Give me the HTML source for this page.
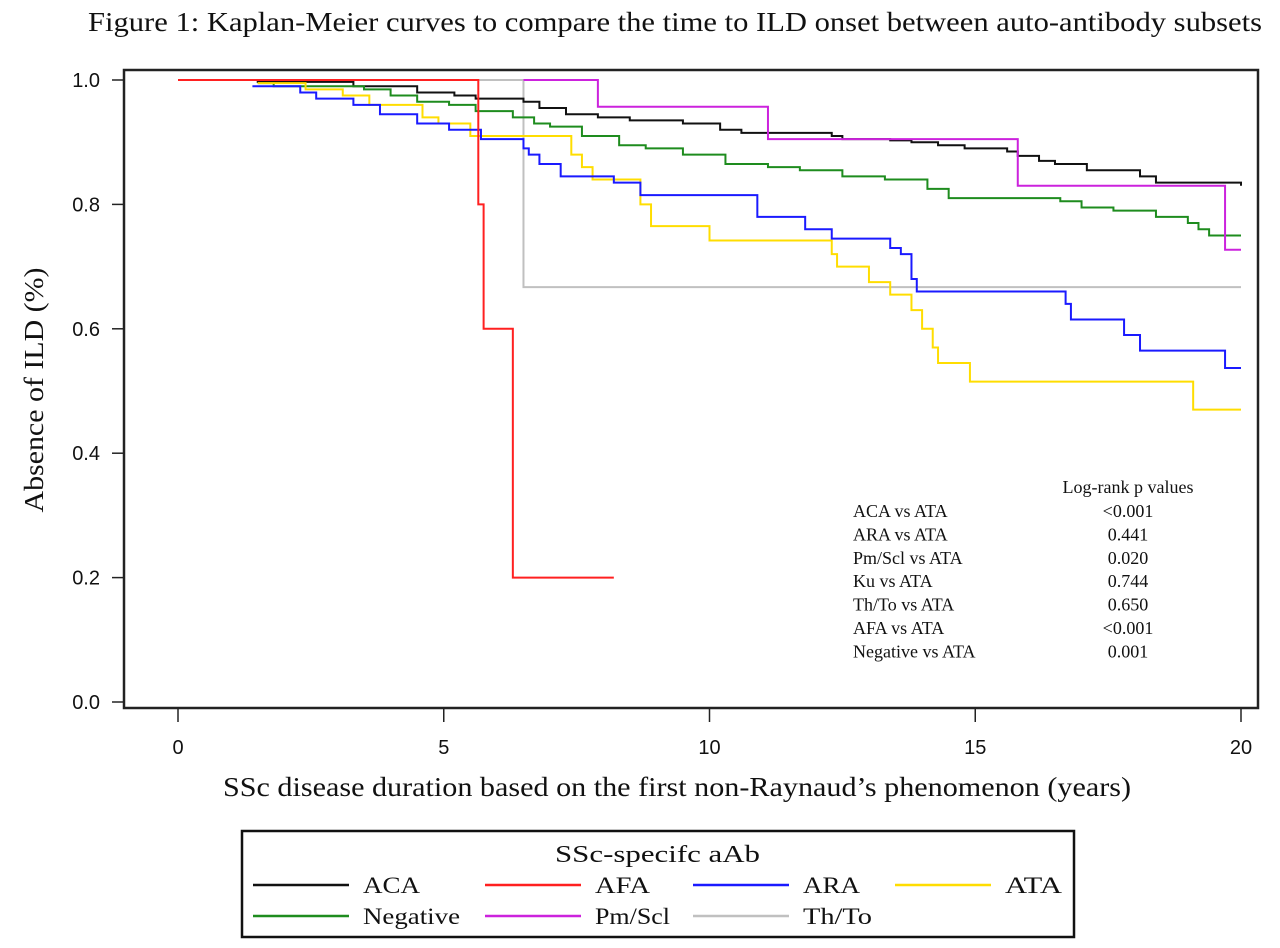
<!DOCTYPE html>
<html><head><meta charset="utf-8"><style>
html,body{margin:0;padding:0;background:#fff;}
svg{display:block;}
text{font-family:"Liberation Serif",serif;fill:#111;}
.tk{font-family:"Liberation Sans",sans-serif;font-size:20px;}
</style></head><body>
<svg id="chart" width="1280" height="948" viewBox="0 0 1280 948">
<text x="88" y="31" textLength="1174" lengthAdjust="spacingAndGlyphs" font-size="27">Figure 1: Kaplan-Meier curves to compare the time to ILD onset between auto-antibody subsets</text>
<rect x="124" y="70" width="1134" height="638" fill="none" stroke="#222" stroke-width="2.5"/>
<g id="axes"></g>
<g id="curves"></g>
<text transform="translate(43,390) rotate(-90)" text-anchor="middle" font-size="27" textLength="245" lengthAdjust="spacingAndGlyphs">Absence of ILD (%)</text>
<text x="223" y="796" textLength="908" lengthAdjust="spacingAndGlyphs" font-size="27">SSc disease duration based on the first non-Raynaud’s phenomenon (years)</text>
<g font-size="18">
<text x="1128" y="493" text-anchor="middle">Log-rank p values</text>
<g id="ptable"></g>
</g>
<g>
<rect x="242" y="831" width="832" height="106" fill="#fff" stroke="#111" stroke-width="2.5"/>
<text x="555" y="862" textLength="205" lengthAdjust="spacingAndGlyphs" font-size="24">SSc-specifc aAb</text>
<g id="legend"></g>
</g>
</svg>
<script>
const tickX=[0,5,10,15,20];
const tickY=[0.0,0.2,0.4,0.6,0.8,1.0];
const names=["ACA","AFA","ARA","ATA","Negative","Pm/Scl","Th/To"];
const colors=["#111111","#ff2020","#1a1aff","#ffdd00","#1e8c1e","#cc22dd","#c0c0c0"];
const acaT=[0,1.5,3.3,4.5,5.2,5.6,6.5,6.8,7.3,7.9,8.5,9.5,10.2,10.6,12.3,12.5,13.4,13.8,14.3,14.8,15.6,15.8,16.2,16.5,17.1,18.1,18.4,20];
const acaS=[1,0.997,0.99,0.98,0.975,0.97,0.965,0.955,0.945,0.94,0.935,0.93,0.92,0.915,0.91,0.905,0.903,0.9,0.895,0.89,0.885,0.878,0.87,0.865,0.855,0.845,0.835,0.83];
const afaT=[0,5.65,5.75,6.3,8.2];
const afaS=[1,0.8,0.6,0.2,0.2];
const araT=[1.4,2.3,2.6,3.3,3.8,4.5,5.1,5.7,6.5,6.6,6.8,7.2,8.2,8.7,10.9,11.8,12.3,13.4,13.6,13.8,13.9,16.7,16.8,17.8,18.1,19.7,20];
const araS=[0.99,0.98,0.97,0.96,0.945,0.93,0.92,0.905,0.89,0.88,0.865,0.845,0.835,0.815,0.78,0.76,0.745,0.73,0.72,0.68,0.66,0.64,0.615,0.59,0.565,0.537,0.537];
const ataT=[1.5,2.4,3.1,3.6,4.6,4.9,5.5,7.4,7.6,7.8,8.7,8.9,10.0,12.3,12.4,13.0,13.4,13.8,14.0,14.2,14.3,14.9,19.1,20];
const ataS=[0.995,0.985,0.975,0.96,0.94,0.93,0.91,0.88,0.86,0.84,0.8,0.765,0.742,0.72,0.70,0.675,0.655,0.63,0.60,0.57,0.545,0.515,0.47,0.47];
const negT=[1.5,1.8,3.5,4.0,4.5,5.1,5.6,6.3,6.7,7.0,7.6,8.3,8.8,9.5,10.3,11.1,11.7,12.5,13.3,14.1,14.5,16.6,17.0,17.6,18.4,19.0,19.2,19.4,20];
const negS=[0.995,0.99,0.985,0.975,0.965,0.96,0.95,0.94,0.93,0.925,0.91,0.895,0.89,0.88,0.865,0.86,0.855,0.845,0.84,0.825,0.81,0.805,0.795,0.79,0.78,0.77,0.76,0.75,0.75];
const pmT=[6.5,7.9,11.1,15.8,19.7,20];
const pmS=[1,0.957,0.905,0.83,0.727,0.727];
const thT=[0,6.5,20];
const thS=[1,0.667,0.667];
const compLabels=["ACA vs ATA","ARA vs ATA","Pm/Scl vs ATA","Ku vs ATA","Th/To vs ATA","AFA vs ATA","Negative vs ATA"];
const pValues=["<0.001","0.441","0.020","0.744","0.650","<0.001","0.001"];

const NS="http://www.w3.org/2000/svg";
const X=t=>178+t*53.15;
const Y=s=>702-s*622;
function mk(tag,attrs,parent){const e=document.createElementNS(NS,tag);for(const k in attrs)e.setAttribute(k,attrs[k]);parent.appendChild(e);return e;}
const axes=document.getElementById("axes");
tickX.forEach(v=>{
 const l=mk("line",{x1:X(v),x2:X(v),y1:708,y2:722,stroke:"#222","stroke-width":1.5},axes);
 
 
 const t=mk("text",{x:X(v),y:754,"text-anchor":"middle",class:"tk"},axes);t.textContent=v;
 
 
});
tickY.forEach(v=>{
 const l=mk("line",{x1:112,x2:124,y1:Y(v),y2:Y(v),stroke:"#222","stroke-width":1.5},axes);
 
 
 const t=mk("text",{x:100,y:Y(v)+7,"text-anchor":"end",class:"tk"},axes);t.textContent=v.toFixed(1);
 
 
});
function stepPath(T,S){let d="M"+X(T[0])+","+Y(S[0]);for(let i=1;i<T.length;i++){d+=" H"+X(T[i])+" V"+Y(S[i]);}return d;}
const series=[[thT,thS,6],[acaT,acaS,0],[negT,negS,4],[ataT,ataS,3],[araT,araS,2],[pmT,pmS,5],[afaT,afaS,1]];
const cg=document.getElementById("curves");
series.forEach(([T,S,ci])=>{
 const p=mk("path",{d:stepPath(T,S),fill:"none",stroke:colors[ci],"stroke-width":2},cg);
 
 
});
const pt=document.getElementById("ptable");
compLabels.forEach((c,i)=>{
 const y=517+i*23.4;
 const a=mk("text",{x:853,y:y},pt);a.textContent=c;
 
 
 const b=mk("text",{x:1128,y:y,"text-anchor":"middle"},pt);b.textContent=pValues[i];
 
 
});
const lg=document.getElementById("legend");
const lx=[253,485,693,895],ly=[885,916];
const lw=[57,55,57,57,97,75,69];
names.forEach((n,i)=>{
 const r=Math.floor(i/4),c=i%4;
 const g=mk("g",{},lg);
 
 
 mk("line",{x1:lx[c],x2:lx[c]+96,y1:ly[r],y2:ly[r],stroke:colors[i],"stroke-width":2.5},g);
 const t=mk("text",{x:lx[c]+110,y:ly[r]+8,"font-size":23,"font-family":"Liberation Sans, sans-serif",textLength:lw[i],lengthAdjust:"spacingAndGlyphs"},g);t.textContent=n;
});
</script>
</body></html>
